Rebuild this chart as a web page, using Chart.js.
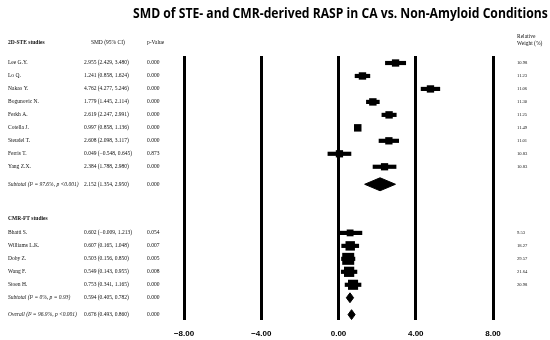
<!DOCTYPE html>
<html>
<head>
<meta charset="utf-8">
<style>
  html, body { margin: 0; padding: 0; background: #fff; }
  #box { position: relative; width: 550px; height: 340px; }
  #title {
    position: absolute; left: 133px; top: 3px; margin: 0;
    font: bold 14px 'Open Sans', sans-serif; color: #000;
    white-space: nowrap; transform-origin: 0 50%; line-height: 20px;
  }
</style>
</head>
<body>
<div id="box">
  <canvas id="chart" width="550" height="340"></canvas>
  <div id="title"></div>
</div>
<script src="https://cdn.jsdelivr.net/npm/chart.js"></script>
<script>
// 2D-STE studies
const steStudies = ['Lee G.Y.', 'Lo Q.', 'Nakao Y.', 'Bogunovic N.', 'Ferkh A.', 'Cotella J.', 'Steudel T.', 'Ferris T.', 'Yang Z.X.'];
const steSmd = [2.955, 1.241, 4.762, 1.779, 2.619, 0.997, 2.608, 0.049, 2.384];
const steLow = [2.429, 0.858, 4.277, 1.445, 2.247, 0.858, 2.098, -0.548, 1.788];
const steHigh = [3.480, 1.624, 5.246, 2.114, 2.991, 1.136, 3.117, 0.645, 2.980];
const steP = ['0.000', '0.000', '0.000', '0.000', '0.000', '0.000', '0.000', '0.873', '0.000'];
const steWeight = [10.98, 11.23, 11.06, 11.30, 11.25, 11.49, 11.01, 10.83, 10.83];

// CMR-FT studies
const cmrStudies = ['Bhatti S.', 'Williams L.K.', 'Doby Z.', 'Wang F.', 'Stoen H.'];
const cmrSmd = [0.602, 0.607, 0.503, 0.549, 0.753];
const cmrLow = [-0.009, 0.165, 0.156, 0.143, 0.341];
const cmrHigh = [1.213, 1.048, 0.850, 0.955, 1.165];
const cmrP = ['0.054', '0.007', '0.005', '0.008', '0.000'];
const cmrWeight = [9.53, 18.27, 29.57, 21.64, 20.98];

// pooled: STE subtotal, CMR subtotal, overall
const pooledLabels = ['Subtotal (I\u00b2 = 97.6%, p <0.001)', 'Subtotal (I\u00b2 = 0%, p = 0.93)', 'Overall (I\u00b2 = 96.9%, p <0.001)'];
const pooledSmd = [2.152, 0.594, 0.676];
const pooledLow = [1.354, 0.405, 0.493];
const pooledHigh = [2.950, 0.782, 0.860];
const pooledP = ['0.000', '0.000', '0.000'];

const groupLabels = ['2D-STE studies', 'CMR-FT studies'];
const columnLabels = ['SMD (95% CI)', 'p-Value', ['Relative', 'Weight (%)']];
const xTicks = [-8, -4, 0, 4, 8];
const chartTitle = 'SMD of STE- and CMR-derived RASP in CA vs. Non-Amyloid Conditions';

// title as html text, squeezed to the narrow width of the original face
const titleEl = document.getElementById('title');
titleEl.textContent = chartTitle;
titleEl.style.transform = 'scaleX(' + (415 / titleEl.scrollWidth) + ')';

// ---- row layout (row units on the y scale) ----
const Y_MIN = -0.54, Y_MAX = 19.8;
const fmt = v => (v < 0 ? '\u2212' : '') + Math.abs(v).toFixed(3);
const ciText = (m, l, h) => fmt(m) + ' (' + fmt(l) + ', ' + fmt(h) + ')';

const rows = [];
const studyRows = [];
const pooledRows = [];
rows.push({y: -1.54, name: groupLabels[0], smd: '     ' + columnLabels[0], p: columnLabels[1], w: columnLabels[2], head: true, bold: true});
steStudies.forEach((s, i) => {
  const r = {y: i, name: s, smd: ciText(steSmd[i], steLow[i], steHigh[i]), p: steP[i], w: steWeight[i].toFixed(2),
             est: steSmd[i], low: steLow[i], high: steHigh[i], weight: steWeight[i]};
  rows.push(r); studyRows.push(r);
});
function addPooled(k, y, half) {
  const r = {y, name: pooledLabels[k], smd: ciText(pooledSmd[k], pooledLow[k], pooledHigh[k]), p: pooledP[k], w: '',
             italic: true, est: pooledSmd[k], low: pooledLow[k], high: pooledHigh[k], half};
  rows.push(r); pooledRows.push(r);
}
addPooled(0, steStudies.length + 0.35, 0.5);
rows.push({y: 12, name: groupLabels[1], smd: '', p: '', w: '', bold: true});
cmrStudies.forEach((s, i) => {
  const r = {y: 13.1 + i, name: s, smd: ciText(cmrSmd[i], cmrLow[i], cmrHigh[i]), p: cmrP[i], w: cmrWeight[i].toFixed(2),
             est: cmrSmd[i], low: cmrLow[i], high: cmrHigh[i], weight: cmrWeight[i]};
  rows.push(r); studyRows.push(r);
});
addPooled(1, 13.1 + cmrStudies.length, 0.38);
addPooled(2, 19.4, 0.38);

const serif = "'Liberation Serif', 'DejaVu Serif', serif";

function textAxis(key, position, order, width, align, headShift) {
  return {
    type: 'linear', position: position, weight: order, reverse: true, min: Y_MIN, max: Y_MAX, offset: false,
    grid: {display: false, drawTicks: false}, border: {display: false},
    afterBuildTicks: ax => { ax.ticks = rows.map(r => ({value: r.y + (r.head ? headShift : 0)})); },
    afterFit: ax => { ax.width = width; },
    ticks: {
      autoSkip: false, crossAlign: align, padding: 0, color: '#111',
      callback: (v, i) => rows[i][key],
      font: ctx => {
        const r = rows[ctx.index] || {};
        return {family: serif, size: (key === 'w' && !r.head) ? 4.6 : 5.5, lineHeight: 1.2,
                weight: (r.bold && key === 'name') ? 'bold' : 'normal',
                style: (r.italic && key === 'name') ? 'italic' : 'normal'};
      }
    }
  };
}

const diamondSets = pooledRows.map(r => ({
  type: 'line', yAxisID: 'y', xAxisID: 'x',
  data: [{x: r.low, y: r.y}, {x: r.est, y: r.y - r.half}, {x: r.high, y: r.y}, {x: r.est, y: r.y + r.half}, {x: r.low, y: r.y}],
  showLine: true, fill: 'shape', backgroundColor: '#000', borderColor: '#000', borderWidth: 1,
  pointRadius: 0, tension: 0, clip: false
}));

new Chart(document.getElementById('chart'), {
  type: 'scatter',
  data: {
    datasets: [
      ...diamondSets,
      {
        type: 'bar', indexAxis: 'y', yAxisID: 'y', xAxisID: 'x', grouped: false,
        data: studyRows.map(r => ({x: [r.low, r.high], y: r.y})),
        backgroundColor: '#000', barThickness: 3.5, clip: false
      },
      {
        type: 'scatter', yAxisID: 'y', xAxisID: 'x',
        data: studyRows.map(r => ({x: r.est, y: r.y})),
        pointStyle: 'rect', backgroundColor: '#000', borderWidth: 0, clip: false,
        pointRadius: ctx => 1.56 * Math.sqrt(studyRows[ctx.dataIndex].weight)
      }
    ]
  },
  options: {
    responsive: false,
    devicePixelRatio: 1,
    animation: false,
    layout: {autoPadding: false, padding: {left: 8, right: 0, top: 56, bottom: 1}},
    plugins: {
      legend: {display: false},
      tooltip: {enabled: false}
    },
    scales: {
      x: {
        type: 'linear', min: -8, max: 8,
        afterBuildTicks: ax => { ax.ticks = xTicks.map(v => ({value: v})); },
        afterFit: ax => { ax.height = 19.2; },
        grid: {color: '#000', lineWidth: 3, drawTicks: false},
        border: {display: false},
        ticks: {
          padding: 9.4, color: '#000', maxRotation: 0, autoSkip: false,
          font: {family: "'Liberation Sans', Arial, sans-serif", size: 8, weight: 'bold'},
          callback: v => (v < 0 ? '\u2212' : '') + Math.abs(v).toFixed(2)
        }
      },
      y: textAxis('name', 'left', 3, 76, 'far', 0),
      ySmd: textAxis('smd', 'left', 2, 63, 'far', 0),
      yP: textAxis('p', 'left', 1, 37, 'far', 0),
      // empty gap between the plot and the weight column
      yGap: {
        type: 'linear', position: 'right', weight: 1, min: Y_MIN, max: Y_MAX,
        grid: {display: false, drawTicks: false}, border: {display: false},
        ticks: {display: false},
        afterFit: ax => { ax.width = 24; }
      },
      yW: textAxis('w', 'right', 2, 33, 'near', -0.24)
    }
  }
});
</script>
</body>
</html>
